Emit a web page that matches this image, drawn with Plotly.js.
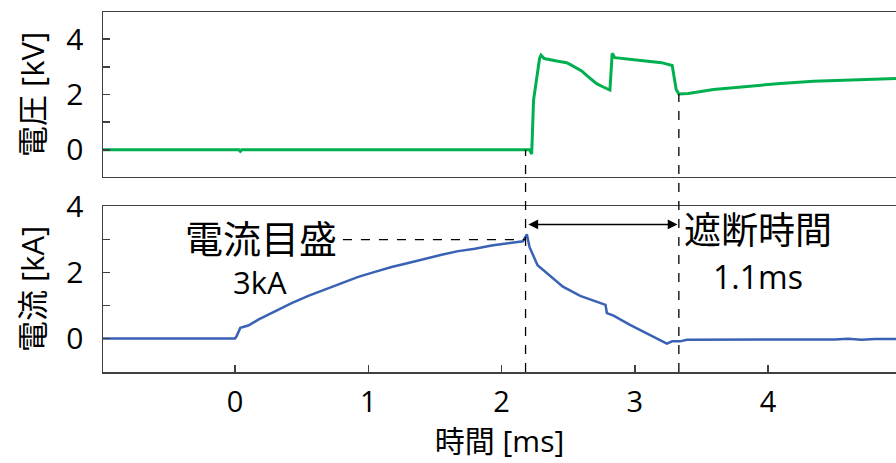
<!DOCTYPE html>
<html>
<head>
<meta charset="utf-8">
<script src="https://cdn.plot.ly/plotly-3.0.1.min.js"></script>
<style>html,body{margin:0;padding:0;background:#fff;}#chart{width:896px;height:463px;}</style>
</head>
<body>
<div id="chart"></div>
<script>
// ---- data ----
const timeV = [-0.99, 0.03, 0.04, 0.05, 2.21, 2.226, 2.24, 2.265, 2.285, 2.296, 2.32, 2.413, 2.488, 2.513, 2.563, 2.601, 2.638, 2.676, 2.713, 2.763, 2.813, 2.83, 2.85, 3.01, 3.20, 3.28, 3.31, 3.33, 3.40, 3.59, 3.84, 4.09, 4.34, 4.59, 5.0];
const voltage = [0, 0, -0.05, 0, 0, -0.15, 1.8, 2.75, 3.3, 3.42, 3.30, 3.21, 3.15, 3.09, 2.97, 2.85, 2.69, 2.52, 2.39, 2.27, 2.16, 3.49, 3.33, 3.25, 3.15, 3.05, 2.18, 2.02, 2.04, 2.18, 2.30, 2.40, 2.48, 2.52, 2.58];

const timeI = [-0.99, 0.0, 0.01, 0.04, 0.10, 0.175, 0.30, 0.425, 0.55, 0.675, 0.80, 0.925, 1.05, 1.175, 1.30, 1.425, 1.55, 1.675, 1.80, 1.925, 2.05, 2.16, 2.19, 2.21, 2.27, 2.34, 2.46, 2.59, 2.71, 2.78, 2.79, 2.84, 2.96, 3.09, 3.19, 3.24, 3.28, 3.34, 3.39, 4.0, 4.5, 4.6, 4.7, 4.8, 4.9, 5.0];
const current = [0, 0, 0.05, 0.32, 0.39, 0.57, 0.82, 1.07, 1.29, 1.49, 1.67, 1.87, 2.02, 2.17, 2.29, 2.42, 2.54, 2.65, 2.72, 2.82, 2.88, 2.95, 3.16, 2.77, 2.22, 1.97, 1.57, 1.29, 1.12, 1.02, 0.77, 0.69, 0.42, 0.14, -0.06, -0.16, -0.09, -0.09, -0.04, -0.04, -0.03, -0.01, -0.04, -0.02, -0.03, -0.02];

const xTicks = [0, 1, 2, 3, 4];
const yTicksV = [0, 2, 4];
const yTicksI = [0, 2, 4];

const breakStart = 2.18;   // current interruption start
const breakEnd = 3.33;     // interruption end
const voltageAtStart = 0;
const voltageAtEnd = 2.02;
const ratedCurrent = 3;
const arrowLevel = 3.46;
const labelScale = '電流目盛';
const labelScaleVal = '3kA';
const labelBreak = '遮断時間';
const labelBreakVal = '1.1ms';

// ---- layout helpers ----
const topDomain = [0.5417, 1];
const botDomain = [0, 0.4611];
const vRange = [-0.98, 4.98];
const iRange = [-1.02, 4.02];
function paperY(v, dom, rng) {
  return dom[0] + (v - rng[0]) / (rng[1] - rng[0]) * (dom[1] - dom[0]);
}

const FONT = '"Open Sans", "Noto Sans CJK JP", sans-serif';
const AX = '#404040';

const traces = [
  {x: timeV, y: voltage, xaxis: 'x', yaxis: 'y', mode: 'lines',
   line: {color: '#00b050', width: 3}, hoverinfo: 'skip'},
  {x: timeI, y: current, xaxis: 'x2', yaxis: 'y2', mode: 'lines',
   line: {color: '#3a62b4', width: 2.5}, hoverinfo: 'skip'}
];

const layout = {
  width: 896, height: 463,
  margin: {l: 103, r: 0, t: 12, b: 91},
  paper_bgcolor: '#fff', plot_bgcolor: '#fff',
  showlegend: false,
  font: {family: FONT, size: 30, color: '#000'},
  xaxis: {
    domain: [0, 1], range: [-0.99, 4.959], anchor: 'y',
    showline: true, mirror: true, linecolor: AX, linewidth: 1.5,
    showgrid: false, zeroline: false, showticklabels: false, ticks: ''
  },
  yaxis: {
    domain: topDomain, range: vRange, anchor: 'x',
    showline: true, linecolor: AX, linewidth: 1.5,
    showgrid: false, zeroline: false,
    tickmode: 'array', tickvals: yTicksV, ticktext: yTicksV.map(String),
    ticks: 'inside', ticklen: 7, tickwidth: 1.5, tickcolor: AX,
    minor: {dtick: 1, tick0: 0, ticks: 'inside', ticklen: 7, tickwidth: 1.5, tickcolor: AX},
    ticklabelstandoff: 12,
    tickfont: {size: 30},
    title: {text: '電圧 [kV]', font: {size: 31}, standoff: 12}
  },
  xaxis2: {
    domain: [0, 1], range: [-0.99, 4.959], anchor: 'y2', matches: 'x',
    showline: true, mirror: true, linecolor: AX, linewidth: 1.5,
    showgrid: false, zeroline: false,
    tickmode: 'array', tickvals: xTicks, ticktext: xTicks.map(String),
    ticks: 'inside', ticklen: 7, tickwidth: 1.5, tickcolor: AX,
    ticklabelstandoff: 4,
    tickfont: {size: 29},
    title: {text: '時間 [ms]', font: {size: 30}, standoff: 2}
  },
  yaxis2: {
    domain: botDomain, range: iRange, anchor: 'x2',
    showline: true, linecolor: AX, linewidth: 1.5,
    showgrid: false, zeroline: false,
    tickmode: 'array', tickvals: yTicksI, ticktext: yTicksI.map(String),
    ticks: 'inside', ticklen: 7, tickwidth: 1.5, tickcolor: AX,
    minor: {dtick: 1, tick0: 0, ticks: 'inside', ticklen: 7, tickwidth: 1.5, tickcolor: AX},
    ticklabelstandoff: 12,
    tickfont: {size: 30},
    title: {text: '電流 [kA]', font: {size: 31}, standoff: 12}
  },
  shapes: [
    {type: 'line', xref: 'x', yref: 'paper', x0: breakStart, x1: breakStart,
     y0: 0, y1: paperY(voltageAtStart, topDomain, vRange),
     line: {color: '#000', width: 1.3, dash: 'dash'}},
    {type: 'line', xref: 'x', yref: 'paper', x0: breakEnd, x1: breakEnd,
     y0: 0, y1: paperY(voltageAtEnd, topDomain, vRange),
     line: {color: '#000', width: 1.3, dash: 'dash'}},
    {type: 'line', xref: 'x2', yref: 'y2', x0: 0.81, x1: breakStart,
     y0: ratedCurrent, y1: ratedCurrent,
     line: {color: '#000', width: 1.3, dash: 'dash'}}
  ],
  annotations: [
    {xref: 'x2', yref: 'y2', x: breakEnd - 0.01, y: arrowLevel,
     axref: 'x2', ayref: 'y2', ax: breakStart + 0.01, ay: arrowLevel,
     text: '', showarrow: true, arrowside: 'end+start', arrowhead: 2,
     arrowsize: 1.3, arrowwidth: 1.5, arrowcolor: '#000', standoff: 0, startstandoff: 0},
    {xref: 'x2', yref: 'y2', x: 0.195, y: 3.05, text: labelScale, showarrow: false,
     font: {size: 38, family: FONT}},
    {xref: 'x2', yref: 'y2', x: 0.19, y: 1.70, text: labelScaleVal, showarrow: false,
     font: {size: 31, family: FONT}},
    {xref: 'x2', yref: 'y2', x: 3.92, y: 3.30, text: labelBreak, showarrow: false,
     font: {size: 37, family: FONT}},
    {xref: 'x2', yref: 'y2', x: 3.92, y: 1.87, text: labelBreakVal, showarrow: false,
     font: {size: 32, family: FONT}}
  ]
};

Plotly.newPlot('chart', traces, layout, {staticPlot: true, displayModeBar: false});
</script>
</body>
</html>
